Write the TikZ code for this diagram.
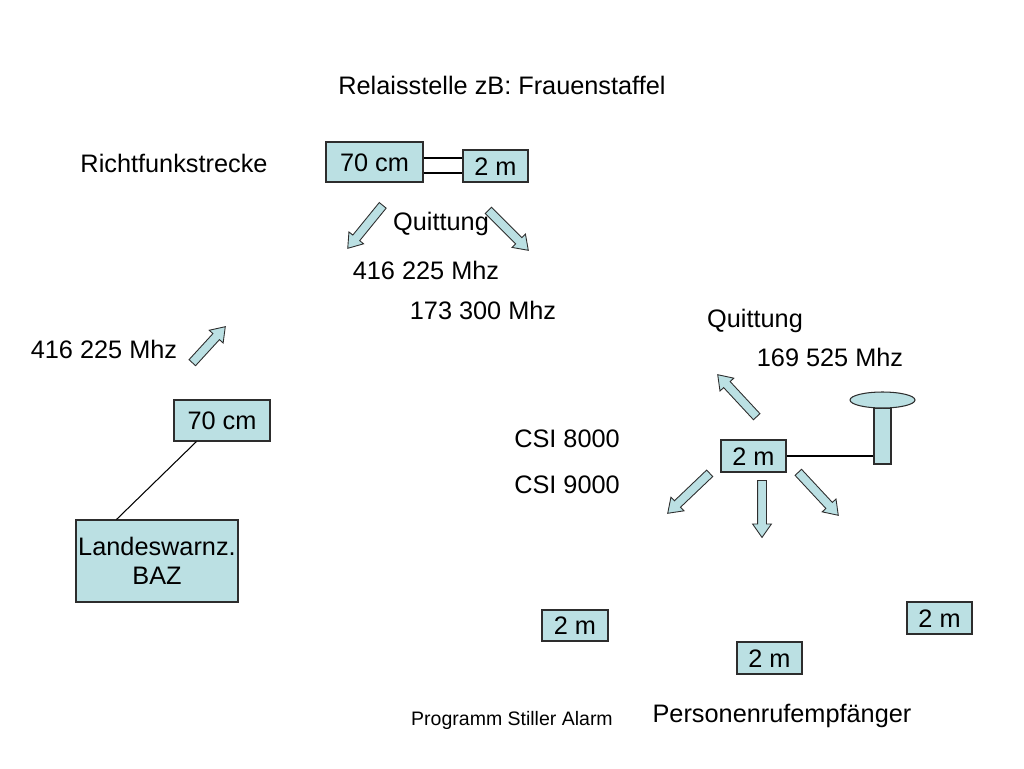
\documentclass[tikz,border=0pt]{standalone}
\usepackage{fontspec}
\setmainfont{Liberation Sans}
\usetikzlibrary{shapes.arrows,shapes.geometric,calc}
\definecolor{boxfill}{RGB}{187,224,227}
\definecolor{edge}{RGB}{45,45,45}
\tikzset{
  lbl/.style={font=\fontsize{14.4}{16.5}\selectfont, inner sep=0pt, text height=10.3pt, text depth=0pt},
  small/.style={font=\fontsize{11.1}{13}\selectfont, inner sep=0pt, text height=8pt, text depth=0pt},
  box/.style={draw=edge, fill=boxfill, line width=0.6pt, font=\fontsize{14.4}{16.5}\selectfont, inner sep=0pt, align=center},
  barrow/.style={single arrow, draw=edge, fill=boxfill, line width=0.5pt, minimum width=0pt, inner sep=0.08cm, single arrow head extend=0.1cm, single arrow tip angle=70, anchor=tail},
  conn/.style={draw=black, line width=0.6pt}
}
\newcommand\blockarrow[3]{\path let \p1=(#2), \p2=(#3), \n1={atan2(\y2-\y1,\x2-\x1)}, \n2={veclen(\x2-\x1,\y2-\y1)} in node[barrow, minimum height=\n2, rotate=\n1] (#1) at (#2) {};}
\begin{document}
\begin{tikzpicture}[x=0.02cm,y=-0.02cm]
\useasboundingbox (0,0) rectangle (1024,768);
% texts
\node[lbl] (title) at (502,85) {Relaisstelle zB: Frauenstaffel};
\node[lbl] (richt) at (174,163) {Richtfunkstrecke};
\node[lbl] (quit1) at (441,221) {Quittung};
\node[lbl] (f416a) at (426,270) {416 225 Mhz};
\node[lbl] (f173) at (483,310) {173 300 Mhz};
\node[lbl] (quit2) at (755,318) {Quittung};
\node[lbl] (f169) at (830,357) {169 525 Mhz};
\node[lbl] (f416b) at (104,349) {416 225 Mhz};
\node[lbl] (csi8) at (567,438) {CSI 8000};
\node[lbl] (csi9) at (567,484) {CSI 9000};
\node[lbl] (pers) at (782,713) {Personenrufempfänger};
\node[small] (prog) at (512,718) {Programm Stiller Alarm};
% boxes
\node[box, minimum width=1.94cm, minimum height=0.8cm, text height=10.3pt, text depth=0pt] (top70) at (374.5,162) {70 cm};
\node[box, minimum width=1.3cm, minimum height=0.64cm, text height=10.3pt, text depth=0pt] (top2) at (495.5,166) {2 m};
\node[box, minimum width=1.92cm, minimum height=0.82cm, text height=10.3pt, text depth=0pt] (left70) at (222,420.5) {70 cm};
\node[box, minimum width=3.24cm, minimum height=1.64cm] (land) at (157,561) {Landeswarnz.\\BAZ};
\node[box, minimum width=1.3cm, minimum height=0.64cm, text height=10.3pt, text depth=0pt] (r2) at (753.5,456) {2 m};
\node[box, minimum width=1.32cm, minimum height=0.62cm, text height=10.3pt, text depth=0pt] (p1) at (575,625.5) {2 m};
\node[box, minimum width=1.3cm, minimum height=0.64cm, text height=10.3pt, text depth=0pt] (p2) at (769.5,658) {2 m};
\node[box, minimum width=1.3cm, minimum height=0.64cm, text height=10.3pt, text depth=0pt] (p3) at (939.5,618) {2 m};
% antenna
\node[draw=edge, fill=boxfill, line width=0.6pt, minimum width=0.34cm, minimum height=1.12cm, inner sep=0pt] (mast) at (882.5,436) {};
\node[ellipse, draw=edge, fill=boxfill, line width=0.6pt, minimum width=1.3cm, minimum height=0.32cm, inner sep=0pt] (dish) at (882.5,400) {};
% connectors
\coordinate (ya) at (0,158);
\coordinate (yb) at (0,173);
\draw[conn] (top70.east |- ya) -- (top2.west |- ya);
\draw[conn] (top70.east |- yb) -- (top2.west |- yb);
\draw[conn] ([xshift=0.46cm]left70.south west) -- ([xshift=0.82cm]land.north west);
\draw[conn] (r2.east) -- (r2.east -| mast.west);
% block arrows
\coordinate (a1t) at (383,205); \coordinate (a1h) at (348,248);
\coordinate (a2t) at (488,210); \coordinate (a2h) at (528,250);
\coordinate (a3t) at (192,363); \coordinate (a3h) at (225,327);
\coordinate (a4t) at (757,417); \coordinate (a4h) at (718,375);
\coordinate (a5t) at (710,473); \coordinate (a5h) at (668,513);
\coordinate (a6t) at (762,480); \coordinate (a6h) at (762,537);
\coordinate (a7t) at (798,472); \coordinate (a7h) at (838,515);
\blockarrow{arr1}{a1t}{a1h}
\blockarrow{arr2}{a2t}{a2h}
\blockarrow{arr3}{a3t}{a3h}
\blockarrow{arr4}{a4t}{a4h}
\blockarrow{arr5}{a5t}{a5h}
\blockarrow{arr6}{a6t}{a6h}
\blockarrow{arr7}{a7t}{a7h}
\end{tikzpicture}
\end{document}
